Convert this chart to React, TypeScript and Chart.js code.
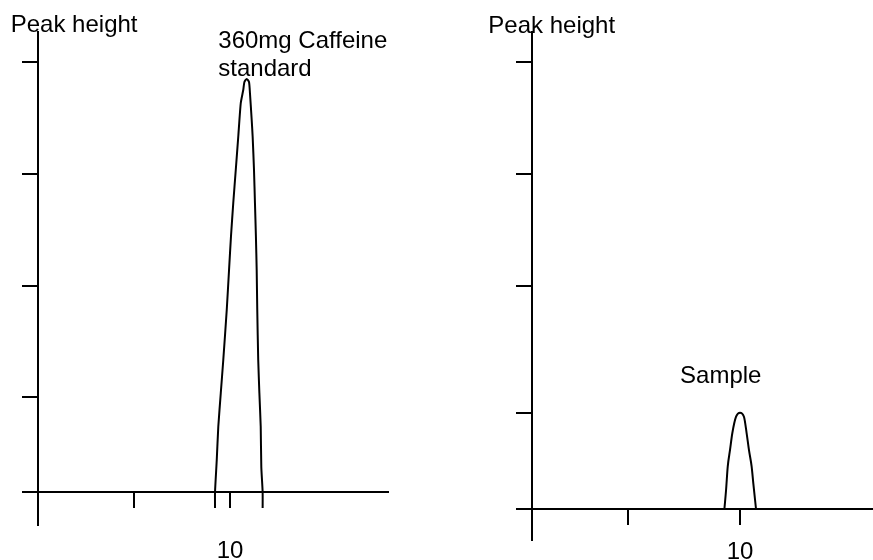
import React, { useEffect, useRef } from 'react';
import { Chart, registerables } from 'chart.js';

Chart.register(...registerables);

// ---- Data: 360mg caffeine standard (left panel) ----
const STANDARD_TIME = [
  9.22, 9.22, 9.31, 9.39, 9.52, 9.65, 9.83, 9.95, 10.05, 10.17, 10.3, 10.43, 10.56, 10.69, 10.75, 10.87,
  10.99, 11.04, 11.13, 11.18, 11.25, 11.3, 11.35, 11.39, 11.42, 11.47, 11.53, 11.6, 11.63, 11.7, 11.7,
];
const STANDARD_HEIGHT = [
  -14.3, 0, 28.6, 58.3, 88.4, 117.9, 162.5, 198.2, 227.9, 258, 287.5, 317.2, 347.1, 358.9, 366.1, 368.8,
  366.1, 356, 332.1, 317.2, 287.5, 258, 227.9, 198.2, 162.5, 117.9, 88.4, 58.3, 22.6, 0, -14.3,
];
const STANDARD_X_TICKS = [5, 10];
const STANDARD_X_TICK_LABELS = ['', '10'];
const STANDARD_Y_TICKS = [85, 184, 284, 384];

// ---- Data: sample (right panel) ----
const SAMPLE_TIME = [9.25, 9.33, 9.41, 9.52, 9.63, 9.81, 10.0, 10.19, 10.32, 10.43, 10.56, 10.64, 10.77];
const SAMPLE_HEIGHT = [0, 17, 37.8, 52.7, 67.6, 82.4, 86, 82.4, 67.6, 52.7, 37.8, 22.9, 0];
const SAMPLE_X_TICKS = [4.6, 10];
const SAMPLE_X_TICK_LABELS = ['', '10'];
const SAMPLE_Y_TICKS = [86, 199, 299, 399];

// ---- Text labels ----
const Y_AXIS_TITLE = 'Peak height';
const STANDARD_LABEL = ['360mg Caffeine', 'standard'];
const SAMPLE_LABEL = 'Sample';

const FONT_FAMILY = '"Liberation Sans", Arial, Helvetica, sans-serif';
const FONT_SIZE = 24;

const textPlugin = {
  id: 'panelText',
  afterDraw(chart: any, _args: any, opts: any) {
    const { ctx, scales } = chart;
    ctx.save();
    ctx.font = `${FONT_SIZE}px ${FONT_FAMILY}`;
    ctx.fillStyle = '#000';
    ctx.textAlign = 'left';
    ctx.textBaseline = 'alphabetic';
    for (const l of opts.labels || []) {
      ctx.fillText(l.text, scales.x.getPixelForValue(l.x), scales.y.getPixelForValue(l.y));
    }
    ctx.restore();
  },
};

type PanelProps = {
  left: number;
  width: number;
  xs: number[];
  ys: number[];
  xRange: [number, number];
  yRange: [number, number];
  xTicks: number[];
  xTickLabels: string[];
  yTicks: number[];
  padding: { left: number; right: number; top: number; bottom: number };
  tickPadding: number;
  tension: number;
  monotone: boolean;
  labels: { text: string; x: number; y: number }[];
};

function Panel(p: PanelProps) {
  const ref = useRef<HTMLCanvasElement | null>(null);
  useEffect(() => {
    if (!ref.current) return;
    const data = p.xs.map((x, i) => ({ x, y: p.ys[i] }));
    const chart = new Chart(ref.current, {
      type: 'line',
      data: {
        datasets: [
          {
            data,
            borderColor: '#000',
            borderWidth: 2,
            pointRadius: 0,
            fill: false,
            tension: p.tension,
            cubicInterpolationMode: p.monotone ? 'monotone' : 'default',
          },
        ],
      },
      options: {
        responsive: false,
        animation: false,
        events: [],
        layout: { padding: p.padding },
        plugins: {
          legend: { display: false },
          tooltip: { enabled: false },
          panelText: { labels: p.labels },
        } as any,
        scales: {
          x: {
            type: 'linear',
            axis: 'x',
            position: { y: 0 } as any,
            min: p.xRange[0],
            max: p.xRange[1],
            bounds: 'data',
            afterBuildTicks: (s: any) => {
              s.ticks = p.xTicks.map((v) => ({ value: v }));
            },
            ticks: {
              display: true,
              autoSkip: false,
              maxRotation: 0,
              padding: p.tickPadding,
              color: '#000',
              font: { family: FONT_FAMILY, size: FONT_SIZE },
              callback: (_v: any, i: number) => p.xTickLabels[i] ?? '',
            },
            grid: {
              drawOnChartArea: false,
              drawTicks: true,
              tickLength: 15,
              color: '#000',
              lineWidth: 2,
            },
            border: { display: true, color: '#000', width: 2 },
          } as any,
          y: {
            type: 'linear',
            axis: 'y',
            position: { x: 0 } as any,
            min: p.yRange[0],
            max: p.yRange[1],
            bounds: 'data',
            afterBuildTicks: (s: any) => {
              s.ticks = p.yTicks.map((v) => ({ value: v }));
            },
            ticks: { display: false },
            grid: {
              drawOnChartArea: false,
              drawTicks: true,
              tickLength: 15,
              color: '#000',
              lineWidth: 2,
            },
            border: { display: true, color: '#000', width: 2 },
          } as any,
        },
      },
      plugins: [textPlugin],
    });
    return () => chart.destroy();
  }, []);
  return (
    <canvas
      ref={ref}
      width={p.width}
      height={560}
      style={{ position: 'absolute', left: p.left, top: 0, width: p.width, height: 560 }}
    />
  );
}

export default function App() {
  return (
    <div style={{ position: 'absolute', left: 0, top: 0, width: 873, height: 560, background: '#fff', overflow: 'hidden' }}>
      <Panel
        left={0}
        width={436}
        xs={STANDARD_TIME}
        ys={STANDARD_HEIGHT}
        xRange={[-0.781, 18.229]}
        yRange={[-29.46, 410.71]}
        xTicks={STANDARD_X_TICKS}
        xTickLabels={STANDARD_X_TICK_LABELS}
        yTicks={STANDARD_Y_TICKS}
        padding={{ left: 23, right: 48, top: 32, bottom: 35 }}
        tickPadding={30}
        tension={0.2}
        monotone={false}
        labels={[
          { text: Y_AXIS_TITLE, x: -1.42, y: 410.7 },
          { text: STANDARD_LABEL[0], x: 9.39, y: 396.4 },
          { text: STANDARD_LABEL[1], x: 9.39, y: 371.4 },
        ]}
      />
      <Panel
        left={436}
        width={437}
        xs={SAMPLE_TIME}
        ys={SAMPLE_HEIGHT}
        xRange={[-0.721, 16.394]}
        yRange={[-27.68, 425.89]}
        xTicks={SAMPLE_X_TICKS}
        xTickLabels={SAMPLE_X_TICK_LABELS}
        yTicks={SAMPLE_Y_TICKS}
        padding={{ left: 81, right: 0, top: 32, bottom: 20 }}
        tickPadding={14}
        tension={0.4}
        monotone={true}
        labels={[
          { text: Y_AXIS_TITLE, x: -2.1, y: 425.3 },
          { text: SAMPLE_LABEL, x: 7.12, y: 112.8 },
        ]}
      />
    </div>
  );
}
